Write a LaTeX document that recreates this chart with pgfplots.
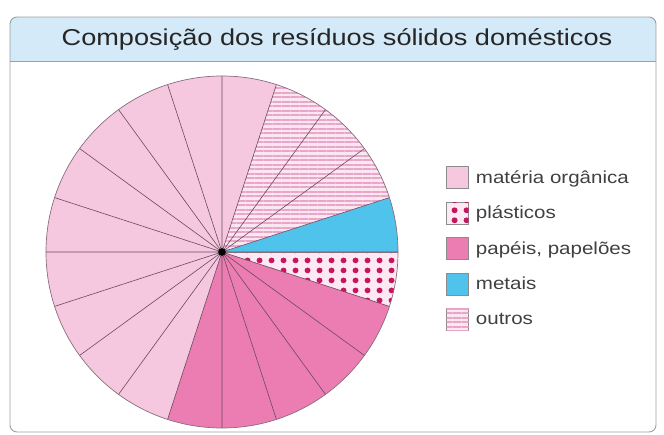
\documentclass[border=0pt]{standalone}
\usepackage{pgfplots}
\pgfplotsset{compat=1.18}
\usepgfplotslibrary{polar}
\usetikzlibrary{patterns.meta}
\usepackage{fontspec}
\setmainfont{Liberation Sans}[FakeStretch=1.18]

\definecolor{organica}{HTML}{F5C8E0}
\definecolor{papeis}{HTML}{EC7DB2}
\definecolor{metais}{HTML}{4FC3EC}
\definecolor{dotcol}{HTML}{C4185E}
\definecolor{dotbg}{HTML}{FDE9F3}
\definecolor{outrosbg}{HTML}{FCE6F1}
\definecolor{outroslin}{HTML}{E8A6C9}
\definecolor{titlebg}{HTML}{D4EAF8}
\definecolor{frame}{HTML}{9A9FA4}
\definecolor{spoke}{HTML}{6A4A5C}

% dots for plasticos
\tikzdeclarepattern{
  name=pdots, type=uncolored,
  bounding box={(0pt,0pt) and (11.5pt,10pt)},
  tile size={(11.5pt,10pt)},
  code={\fill (5.75pt,5pt) circle (3.1pt);}
}

\begin{document}
\begin{tikzpicture}
\useasboundingbox (0pt,0pt) rectangle (664pt,435pt);

% frame and title band
\begin{scope}
  \clip[rounded corners=7pt] (10pt,3pt) rectangle (656pt,418pt);
  \fill[titlebg] (10pt,374pt) rectangle (656pt,418pt);
\end{scope}
\draw[frame, line width=0.9pt, rounded corners=7pt] (10pt,3pt) rectangle (656pt,418pt);
\draw[frame, line width=0.9pt] (10pt,374pt) -- (656pt,374pt);
\node[font=\fontsize{23}{27}\selectfont, text=black!85] at (337pt,396pt)
  {Composição dos resíduos sólidos domésticos};

% 20 slices of 18 degrees (5 % each); angles counter-clockwise from east
\begin{polaraxis}[
  at={(222pt,183pt)}, anchor=center,
  width=352pt, height=352pt, scale only axis,
  xmin=0, xmax=360, ymin=0, ymax=1,
  xtick={0,18,...,342}, xticklabels={}, ytick=\empty,
  major tick length=0pt,
  xmajorgrids,
  major grid style={draw=spoke, line width=0.6pt},
  axis line style={draw=spoke!80, line width=0.7pt},
  axis on top, clip=true,
  legend style={at={(1.137,0.744)}, anchor=north west, draw=none, fill=none,
    inner sep=0pt, row sep=13pt,
    font=\fontsize{17.4}{20}\selectfont, text=black!75,
    nodes={inner xsep=7pt}},
  legend cell align=left,
  legend image code/.code={
    \draw[#1, draw=black!45, line width=0.5pt] (0pt,-11pt) rectangle (22pt,11pt);},
]
% materia organica 50 %
\addplot[fill=organica, draw=none] coordinates {(0,0) (72,2) (132,2) (192,2) (252,2)} -- cycle;
\addlegendentry{matéria orgânica}
% plasticos 5 %
\addplot[fill=dotbg, draw=none, postaction={pattern={pdots}, pattern color=dotcol}]
  coordinates {(0,0) (342,2) (360,2)} -- cycle;
\addlegendentry{plásticos}
% papeis, papeloes 25 %
\addplot[fill=papeis, draw=none] coordinates {(0,0) (252,2) (297,2) (342,2)} -- cycle;
\addlegendentry{papéis, papelões}
% metais 5 %
\addplot[fill=metais, draw=none] coordinates {(0,0) (0,2) (18,2)} -- cycle;
\addlegendentry{metais}
% outros 15 %
\addplot[fill=outrosbg, draw=none,
  postaction={pattern={Lines[angle=0, distance=4.5pt, line width=2pt]}, pattern color=outroslin}]
  coordinates {(0,0) (18,2) (45,2) (72,2)} -- cycle;
\addlegendentry{outros}
% centre pin
\addplot[only marks, mark=*, mark size=3.5pt, color=black, forget plot] coordinates {(0,0)};
\end{polaraxis}
\end{tikzpicture}
\end{document}
